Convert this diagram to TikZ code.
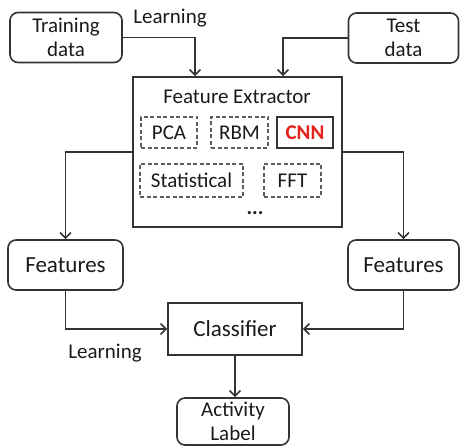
\documentclass[tikz,border=0pt]{standalone}
\usepackage{fontspec}
\setmainfont{Carlito}
\usetikzlibrary{arrows.meta}
\definecolor{ln}{HTML}{333333}
\definecolor{tx}{HTML}{1A1A1A}
\definecolor{cnnred}{HTML}{E3201B}
\begin{document}
\begin{tikzpicture}[x=1pt,y=-1pt,
  box/.style={draw=ln,line width=1.6pt,rounded corners=8pt,align=center,inner sep=0pt,text=tx,font=\fontsize{21}{23.5}\selectfont},
  sqbox/.style={draw=ln,line width=1.6pt,align=center,inner sep=0pt,text=tx},
  dbox/.style={draw=ln!80,line width=1.3pt,dash pattern=on 4pt off 2.5pt,inner sep=0pt,text=tx,font=\fontsize{21}{23.5}\selectfont},
  lbl/.style={text=tx,font=\fontsize{21}{23.5}\selectfont,inner sep=0pt},
  arr/.style={draw=ln,line width=1.6pt,-{Straight Barb[length=5.5pt,width=11pt,line width=1.6pt]}}]
\useasboundingbox (0,0) rectangle (460,446);
\node[box,minimum width=112pt,minimum height=50pt] (train) at (66,37.5) {Training\\data};
\node[box,minimum width=110pt,minimum height=50pt] (test) at (403.5,38) {Test\\data};
\node[sqbox,minimum width=209pt,minimum height=150pt] (fe) at (237.5,152) {};
\node[lbl] (fetitle) at (237,97) {Feature Extractor};
\node[dbox,minimum width=56pt,minimum height=31pt] (pca) at (169,132.5) {PCA};
\node[dbox,minimum width=57pt,minimum height=31pt] (rbm) at (239.5,132.5) {RBM};
\node[sqbox,line width=1.3pt,minimum width=56pt,minimum height=31pt,text=cnnred,font=\fontsize{21}{23.5}\selectfont\bfseries] (cnn) at (305,132.5) {CNN};
\node[dbox,minimum width=103pt,minimum height=33pt] (stat) at (191.5,180.5) {Statistical};
\node[dbox,minimum width=57pt,minimum height=33pt] (fft) at (292.5,180.5) {FFT};
\node[lbl,font=\fontsize{21}{23.5}\selectfont\bfseries] (dots) at (255,213) {...};
\node[box,font=\fontsize{23}{25}\selectfont,minimum width=115pt,minimum height=50pt] (featL) at (65.5,265) {Features};
\node[box,font=\fontsize{23}{25}\selectfont,minimum width=111pt,minimum height=50pt] (featR) at (403.5,265) {Features};
\node[sqbox,font=\fontsize{23}{25}\selectfont,minimum width=134pt,minimum height=52pt] (cls) at (235,329) {Classifier};
\node[box,minimum width=112pt,minimum height=47pt] (act) at (233,421.5) {Activity\\Label};
\node[lbl] (learn1) at (170,18) {Learning};
\node[lbl] (learn2) at (105,353) {Learning};
\draw[arr] (train.east) -| ([xshift=-42.5pt]fe.north);
\draw[arr] (test.west) -| ([xshift=45.5pt]fe.north);
\draw[arr] (fe.west) -| (featL.north);
\draw[arr] (fe.east) -| (featR.north);
\draw[arr] (featL.south) |- (cls.west);
\draw[arr] (featR.south) |- (cls.east);
\draw[arr] (cls.south) -- (cls.south |- act.north);
\end{tikzpicture}
\end{document}
